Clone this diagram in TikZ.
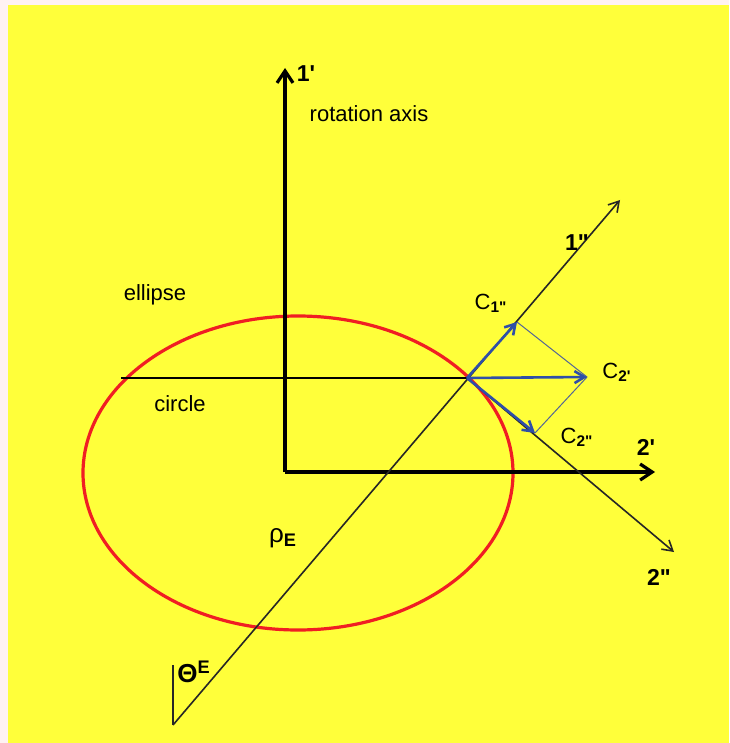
\documentclass[tikz,border=0pt]{standalone}
\usepackage{fontspec}
\setmainfont{Liberation Sans}
\usetikzlibrary{arrows.meta}
\definecolor{bgyellow}{HTML}{FFFF3A}
\definecolor{elred}{HTML}{F01E23}
\definecolor{vecblue}{HTML}{2F4FA8}
\newcommand{\prm}{\textquotesingle}
\newcommand{\dprm}{\textquotedbl}

\begin{document}
\begin{tikzpicture}[x=0.5pt, y=-0.5pt,
  lbl/.style={font=\fontsize{11}{13}\selectfont, inner sep=0pt},
  axlbl/.style={font=\fontsize{11.5}{13}\selectfont\bfseries, inner sep=0pt},
  axisline/.style={line width=1.6pt, -{Straight Barb[length=6pt,width=8pt]}},
  slimline/.style={line width=0.8pt, black!85},
  vec/.style={vecblue, line width=1.3pt, -{Straight Barb[length=5pt,width=6pt]}},
  guide/.style={vecblue!55!gray, line width=0.5pt}]
  % background
  \useasboundingbox (0,0) rectangle (729,743);
  \fill[white!95!red] (0,0) rectangle (729,743);
  \fill[bgyellow] (8,5) rectangle (729,743);
  % points
  \coordinate (O) at (285,472);
  \coordinate (P) at (467,378);
  \coordinate (A1) at (285,68);
  \coordinate (A2) at (655,472);
  \coordinate (L) at (121,378);
  \coordinate (B0) at (173,725);
  \coordinate (B0top) at (173,665);
  \coordinate (B1) at (620,200);
  \coordinate (B2) at (674,552);
  \coordinate (C1) at (517,322);
  \coordinate (C2) at (587,377);
  \coordinate (C3) at (535,433);
  % ellipse
  \draw[elred, line width=1.6pt] (298,473) ellipse [x radius=215, y radius=157];
  % axes
  \draw[axisline] (O) -- (A1);
  \draw[axisline] (O) -- (A2);
  \draw[line width=1.2pt] (L) -- (P);
  \draw[slimline] (B0top) -- (B0);
  \draw[slimline, -{Straight Barb[length=5pt,width=6pt]}] (B0) -- (B1);
  \draw[slimline, -{Straight Barb[length=5pt,width=6pt]}] (P) -- (B2);
  % vectors
  \draw[guide] (C1) -- (C2) -- (C3);
  \draw[vec] (P) -- (C1);
  \draw[vec] (P) -- (C2);
  \draw[vec] (P) -- (C3);
  % labels
  \node[axlbl] (l1p) at (306,74) {1\prm};
  \node[lbl] (rot) at (369,114) {rotation axis};
  \node[axlbl] (l1pp) at (577,243) {1\dprm};
  \node[lbl] (ell) at (155,295) {ellipse};
  \node[lbl] (circ) at (180,404) {circle};
  \node[lbl] (c1pp) at (491,303) {C\textsubscript{\bfseries 1\dprm}};
  \node[lbl] (c2p) at (617,372) {C\textsubscript{\bfseries 2\prm}};
  \node[lbl] (c2pp) at (577,437) {C\textsubscript{\bfseries 2\dprm}};
  \node[axlbl] (l2p) at (646,447) {2\prm};
  \node[axlbl] (l2pp) at (659,577) {2\dprm};
  \node[lbl, font=\fontsize{13}{15}\selectfont] (rho) at (283,538) {ρ\textsubscript{\bfseries E}};
  \node[lbl, font=\fontsize{13}{15}\selectfont\bfseries] (theta) at (194,672) {Θ\textsuperscript{E}};
\end{tikzpicture}
\end{document}
